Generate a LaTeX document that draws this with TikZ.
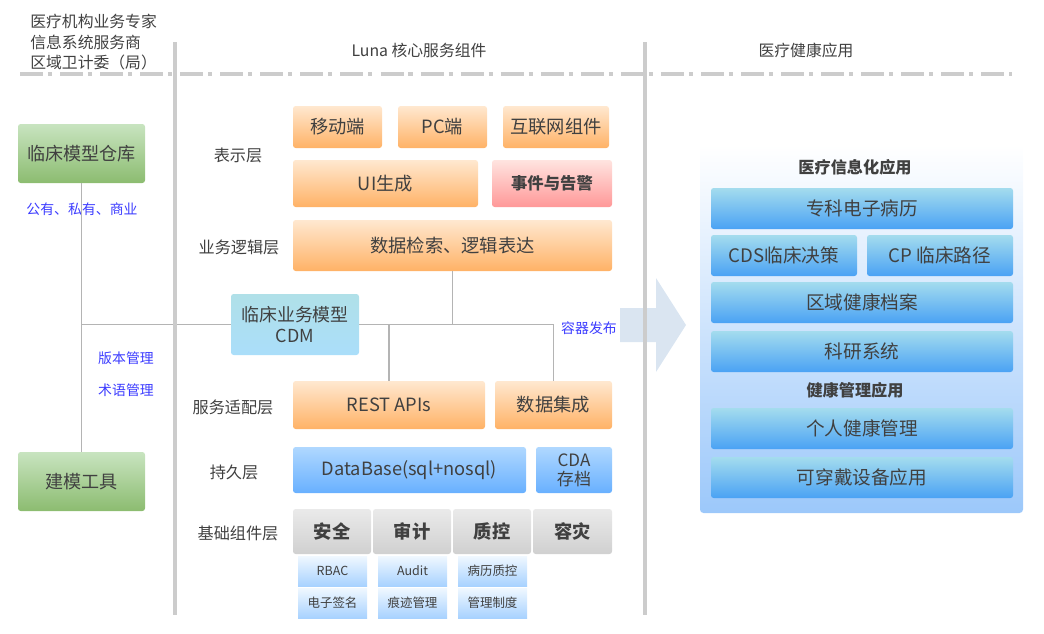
\documentclass[tikz,border=0pt]{standalone}
\usepackage{fontspec}
\setmainfont{Noto Sans CJK SC}
\definecolor{txt}{HTML}{404040}
\definecolor{sepgray}{HTML}{CCCCCC}
\definecolor{linegray}{HTML}{B4B4B4}
\definecolor{bluetxt}{HTML}{3C3CFF}
\definecolor{arrowblue}{HTML}{DAE5F1}
\tikzset{
  sz/.style 2 args={minimum width=#1*0.02cm, minimum height=#2*0.02cm},
  boxbase/.style={inner sep=0pt, rounded corners=1.5pt, text=txt, align=center, font=\fontsize{10.4}{12}\selectfont},
  orangebox/.style={boxbase, top color={rgb,255:red,255;green,232;blue,208}, bottom color={rgb,255:red,255;green,178;blue,102}},
  pinkbox/.style={boxbase, top color={rgb,255:red,255;green,228;blue,224}, bottom color={rgb,255:red,255;green,152;blue,152}, font=\fontsize{9.3}{11}\selectfont\bfseries},
  greenbox/.style={boxbase, top color={rgb,255:red,200;green,228;blue,192}, bottom color={rgb,255:red,140;green,188;blue,112}, font=\fontsize{10.3}{12}\selectfont},
  cdmbox/.style={boxbase, top color={rgb,255:red,176;green,224;blue,232}, bottom color={rgb,255:red,170;green,222;blue,250}, font=\fontsize{10.2}{12}\selectfont},
  dbbox/.style={boxbase, top color={rgb,255:red,176;green,216;blue,255}, bottom color={rgb,255:red,104;green,176;blue,255}},
  graybox/.style={boxbase, top color={rgb,255:red,234;green,234;blue,234}, bottom color={rgb,255:red,208;green,208;blue,208}, font=\fontsize{10.4}{12}\selectfont\bfseries},
  smallbox/.style={boxbase, rounded corners=0pt, top color={rgb,255:red,240;green,248;blue,255}, bottom color={rgb,255:red,168;green,210;blue,255}, font=\fontsize{7.1}{8.5}\selectfont},
  appbox/.style={boxbase, top color={rgb,255:red,164;green,220;blue,238}, bottom color={rgb,255:red,74;green,162;blue,244}, font=\fontsize{10.6}{12}\selectfont},
  layerlabel/.style={text=txt, inner sep=0pt, font=\fontsize{9.2}{11}\selectfont},
  headtxt/.style={text=txt, inner sep=0pt, font=\fontsize{9}{11}\selectfont},
  bluelabel/.style={text=bluetxt, inner sep=0pt, font=\fontsize{7.9}{9.5}\selectfont},
  apptitle/.style={text=txt, inner sep=0pt, font=\fontsize{9.2}{11}\selectfont\bfseries},
  conn/.style={draw=linegray, line width=1.1pt},
  sepline/.style={draw=sepgray, line width=2.8pt}
}
\begin{document}
\begin{tikzpicture}[x=0.02cm,y=-0.02cm]
\useasboundingbox (0,0) rectangle (1044,633);
\draw [sepgray, line width=2.3pt, dash pattern=on 13.1pt off 2.8pt on 2.3pt off 4.6pt] (20,74) -- (1012,74);

\node [headtxt, anchor=west] (who1) at (30,21) {医疗机构业务专家};
\node [headtxt, anchor=west] (who2) at (30,42) {信息系统服务商};
\node [headtxt, anchor=west] (who3) at (30,62) {区域卫计委（局）};
\node [headtxt] (corehead) at (419,50) {Luna 核心服务组件};
\node [headtxt] (apphead) at (806,50) {医疗健康应用};

\node [greenbox, sz={127}{59}] (repo) at (81.5,153.5) {临床模型仓库};
\node [greenbox, sz={127}{59}] (tool) at (81.5,481.5) {建模工具};
\node [bluelabel] (repolbl) at (82,209) {公有、私有、商业};
\node [bluelabel] (verlbl) at (126,358) {版本管理};
\node [bluelabel] (termlbl) at (126,390) {术语管理};

\node [layerlabel] (lpres) at (238,155) {表示层};
\node [layerlabel] (llogic) at (239,247) {业务逻辑层};
\node [layerlabel] (lsvc) at (233,407) {服务适配层};
\node [layerlabel] (lpers) at (234,472) {持久层};
\node [layerlabel] (lbase) at (238,533) {基础组件层};

\node [orangebox, sz={89}{42}] (mobile) at (337.5,127) {移动端};
\node [orangebox, sz={89}{42}] (pc) at (442.5,127) {PC端};
\node [orangebox, sz={106}{42}] (web) at (556,127) {互联网组件};
\node [orangebox, sz={185}{47}] (uigen) at (385.5,183.5) {UI生成};
\node [pinkbox, sz={120}{47}] (event) at (552,183.5) {事件与告警};
\node [orangebox, sz={319}{51}] (query) at (452.5,245.5) {数据检索、逻辑表达};
\node [cdmbox, sz={128}{61}] (cdm) at (295,324.5) {临床业务模型\\CDM};
\node [orangebox, sz={192}{48}] (rest) at (389,405) {REST APIs};
\node [orangebox, sz={117}{48}] (integ) at (553.5,405) {数据集成};
\node [bluelabel] (publbl) at (589,328) {容器发布};
\node [dbbox, sz={233}{46}] (db) at (409.5,470) {DataBase(sql+nosql)};
\node [dbbox, sz={76}{46}, font=\fontsize{9.7}{11}\selectfont] (cda) at (574,470) {CDA\\存档};
\node [graybox, sz={78}{45}] (sec) at (332,531.5) {安全};
\node [graybox, sz={78}{45}] (audit) at (412,531.5) {审计};
\node [graybox, sz={78}{45}] (qc) at (492,531.5) {质控};
\node [graybox, sz={79}{45}] (dr) at (572.5,531.5) {容灾};
\node [smallbox, sz={69}{30}] (rbac) at (332.5,571) {RBAC};
\node [smallbox, sz={69}{30}] (sign) at (332.5,603) {电子签名};
\node [smallbox, sz={69}{30}] (auditlog) at (412.5,571) {Audit};
\node [smallbox, sz={69}{30}] (trace) at (412.5,603) {痕迹管理};
\node [smallbox, sz={69}{30}] (emrqc) at (492.5,571) {病历质控};
\node [smallbox, sz={69}{30}] (rules) at (492.5,603) {管理制度};

\fill [arrowblue] (620,308) -- (656,308) -- (656,278) -- (686,325) -- (656,372) -- (656,342) -- (620,342) -- cycle;

\node [boxbase, rounded corners=2pt, sz={323}{368}, top color=white, bottom color={rgb,255:red,156;green,200;blue,250}] (panel) at (861.5,329) {};
\node [apptitle] (medtitle) at (855,167) {医疗信息化应用};
\node [appbox, sz={302}{41}] (emr) at (862,208.5) {专科电子病历};
\node [appbox, sz={146}{41}] (cds) at (784,255.5) {CDS临床决策};
\node [appbox, sz={146}{41}] (cp) at (940,255.5) {CP 临床路径};
\node [appbox, sz={302}{41}] (region) at (862,302.5) {区域健康档案};
\node [appbox, sz={302}{41}] (research) at (862,351.5) {科研系统};
\node [apptitle] (healthtitle) at (855,390) {健康管理应用};
\node [appbox, sz={302}{41}] (personal) at (862,428.5) {个人健康管理};
\node [appbox, sz={302}{41}] (wearable) at (862,477.5) {可穿戴设备应用};

\coordinate (leftbus) at (repo.south |- cdm.west);
\coordinate (rightbus) at (integ.north |- cdm.east);
\draw [conn] (repo.south) -- (tool.north);
\draw [conn] (leftbus) -- (cdm.west);
\draw [conn] (cdm.east) -- (rightbus) -- (integ.north);
\draw [conn] (query.south) -- (query.south |- cdm.east);
\draw [conn] (rest.north) -- (rest.north |- cdm.east);

\draw [sepline] (175,42) -- (175,615);
\draw [sepline] (645,42) -- (645,615);
\end{tikzpicture}
\end{document}
